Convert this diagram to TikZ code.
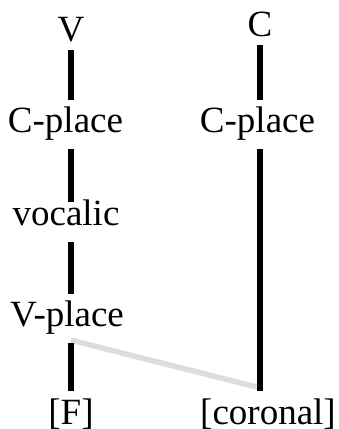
\documentclass[tikz,border=0pt]{standalone}
\usepackage{fontspec}
\setmainfont{Liberation Serif}
\usepackage{tikz}
\definecolor{spreadgray}{RGB}{221,221,221}

\begin{document}
\begin{tikzpicture}[x=1pt,y=1pt,
	lbl/.style={anchor=base,inner sep=8pt,text height=25pt,text depth=8pt,font=\fontsize{37}{40}\selectfont},
	assoc/.style={line width=5.5pt},
	spread/.style={line width=5.5pt,draw=spreadgray}]
	\useasboundingbox (0,0) rectangle (338,429);
	\coordinate (lcol) at (71,0);			%left tier line
	\coordinate (rcol) at (260,0);			%right tier line
	
	%left tier
	\node[lbl,text depth=0pt] (v) at (71,387) {V};
	\node[lbl] (cpl) at (65.5,296) {C-place};
	\node[lbl,text height=16pt] (voc) at (66,203) {vocalic};
	\node[lbl] (vpl) at (67,102) {V-place};
	\node[lbl] (f) at (71,5) {[F]};
	
	%right tier
	\node[lbl,text depth=0pt] (c) at (260,392) {C};
	\node[lbl] (cpr) at (257.5,296) {C-place};
	\node[lbl] (cor) at (268,5) {[coronal]};
	
	%spreading line (under the black ones)
	\draw[spread] ([yshift=3pt]vpl.south -| lcol) -- ([yshift=3pt]cor.north -| rcol);
	
	%association lines
	\draw[assoc] (v.south -| lcol) -- (cpl.north -| lcol);
	\draw[assoc] (cpl.south -| lcol) -- (voc.north -| lcol);
	\draw[assoc] (voc.south -| lcol) -- (vpl.north -| lcol);
	\draw[assoc] (vpl.south -| lcol) -- (f.north -| lcol);
	\draw[assoc] (c.south -| rcol) -- (cpr.north -| rcol);
	\draw[assoc] (cpr.south -| rcol) -- (cor.north -| rcol);
\end{tikzpicture}
\end{document}
